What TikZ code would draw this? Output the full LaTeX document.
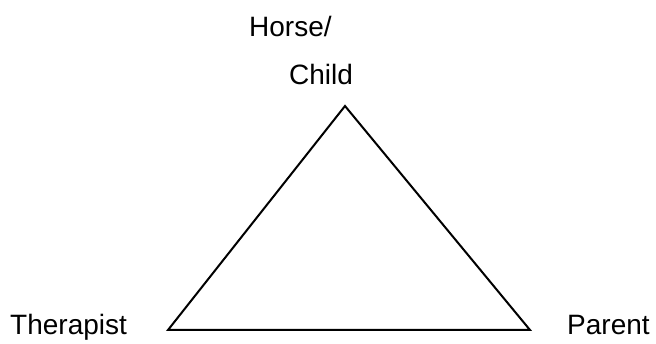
\documentclass[tikz,border=0pt]{standalone}
\usepackage{fontspec}
\setmainfont{Liberation Sans}
\usetikzlibrary{positioning}

\begin{document}
\begin{tikzpicture}[
    x=1pt, y=-1pt,
    label/.style={inner sep=0pt, anchor=base west, font=\fontsize{28}{34}\selectfont},
    edge/.style={line width=2pt, line join=miter},
]
\useasboundingbox (0,0) rectangle (656,344);

% Ecken des Dreiecks
\coordinate (top) at (345,106);
\coordinate (lowleft) at (168,330);
\coordinate (lowright) at (530,330);

% Beschriftungen
\node[label] (horse) at (249,37) {Horse/};
\node[label] (child) at (289,85) {Child};
\node[label] (therapist) at (10,335) {Therapist};
\node[label] (parent) at (567,335) {Parent};

% Dreieck
\draw[edge] (top) -- (lowright) -- (lowleft) -- cycle;

\end{tikzpicture}
\end{document}
